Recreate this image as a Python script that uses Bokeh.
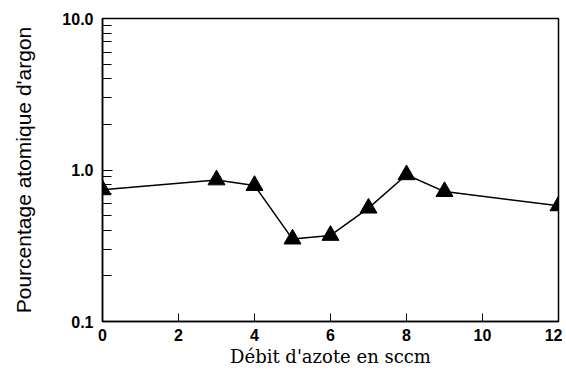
from bokeh.plotting import figure
from bokeh.models import FixedTicker, PrintfTickFormatter, Range1d
from bokeh.embed import file_html
from bokeh.resources import INLINE

# Data
debit_azote = [0, 3, 4, 5, 6, 7, 8, 9, 12]
pourcentage_argon = [0.74, 0.86, 0.79, 0.35, 0.37, 0.56, 0.93, 0.72, 0.58]
x_ticks = [0, 2, 4, 6, 8, 10, 12]
y_ticks = [0.1, 1, 10]
y_minor = [0.2, 0.3, 0.4, 0.5, 0.6, 0.7, 0.8, 0.9, 2, 3, 4, 5, 6, 7, 8, 9]

p = figure(frame_width=456, frame_height=303, output_backend="svg", toolbar_location=None,
           y_axis_type="log", x_range=Range1d(0, 12), y_range=Range1d(0.1, 10),
           min_border_left=102, min_border_right=4, min_border_top=18, min_border_bottom=6)

p.line(debit_azote, pourcentage_argon, line_color="black", line_width=1.5)
p.scatter(debit_azote, pourcentage_argon, marker="triangle", size=17,
          fill_color="black", line_color="black")

p.xgrid.visible = False
p.ygrid.visible = False
p.outline_line_color = "black"
p.outline_line_width = 1.5
p.outline_line_alpha = 1

xa = p.xaxis[0]
xa.ticker = FixedTicker(ticks=x_ticks)
xa.major_tick_in = 8
xa.major_tick_out = 0
xa.minor_tick_in = 0
xa.minor_tick_out = 0
xa.axis_line_color = "black"
xa.axis_line_width = 1.5
xa.major_label_text_font = "Liberation Sans"
xa.major_label_text_font_style = "bold"
xa.major_label_text_font_size = "16px"
xa.major_label_text_color = "black"
xa.major_label_standoff = 7
xa.axis_label = "Débit d'azote en sccm"
xa.axis_label_text_font = "DejaVu Serif"
xa.axis_label_text_font_style = "normal"
xa.axis_label_text_font_size = "18px"
xa.axis_label_text_color = "black"
xa.axis_label_standoff = 2

ya = p.yaxis[0]
ya.ticker = FixedTicker(ticks=y_ticks, minor_ticks=y_minor)
ya.formatter = PrintfTickFormatter(format="%.1f")
ya.major_tick_in = 10
ya.major_tick_out = 0
ya.minor_tick_in = 9
ya.minor_tick_out = 0
ya.axis_line_color = "black"
ya.axis_line_width = 1.5
ya.major_label_text_font = "Liberation Sans"
ya.major_label_text_font_style = "bold"
ya.major_label_text_font_size = "16px"
ya.major_label_text_color = "black"
ya.major_label_standoff = 9
ya.axis_label = "Pourcentage atomique d'argon"
ya.axis_label_text_font = "Liberation Sans"
ya.axis_label_text_font_style = "normal"
ya.axis_label_text_font_size = "21px"
ya.axis_label_text_color = "black"
ya.axis_label_standoff = 24

open("out.html", "w").write(file_html(p, INLINE))
